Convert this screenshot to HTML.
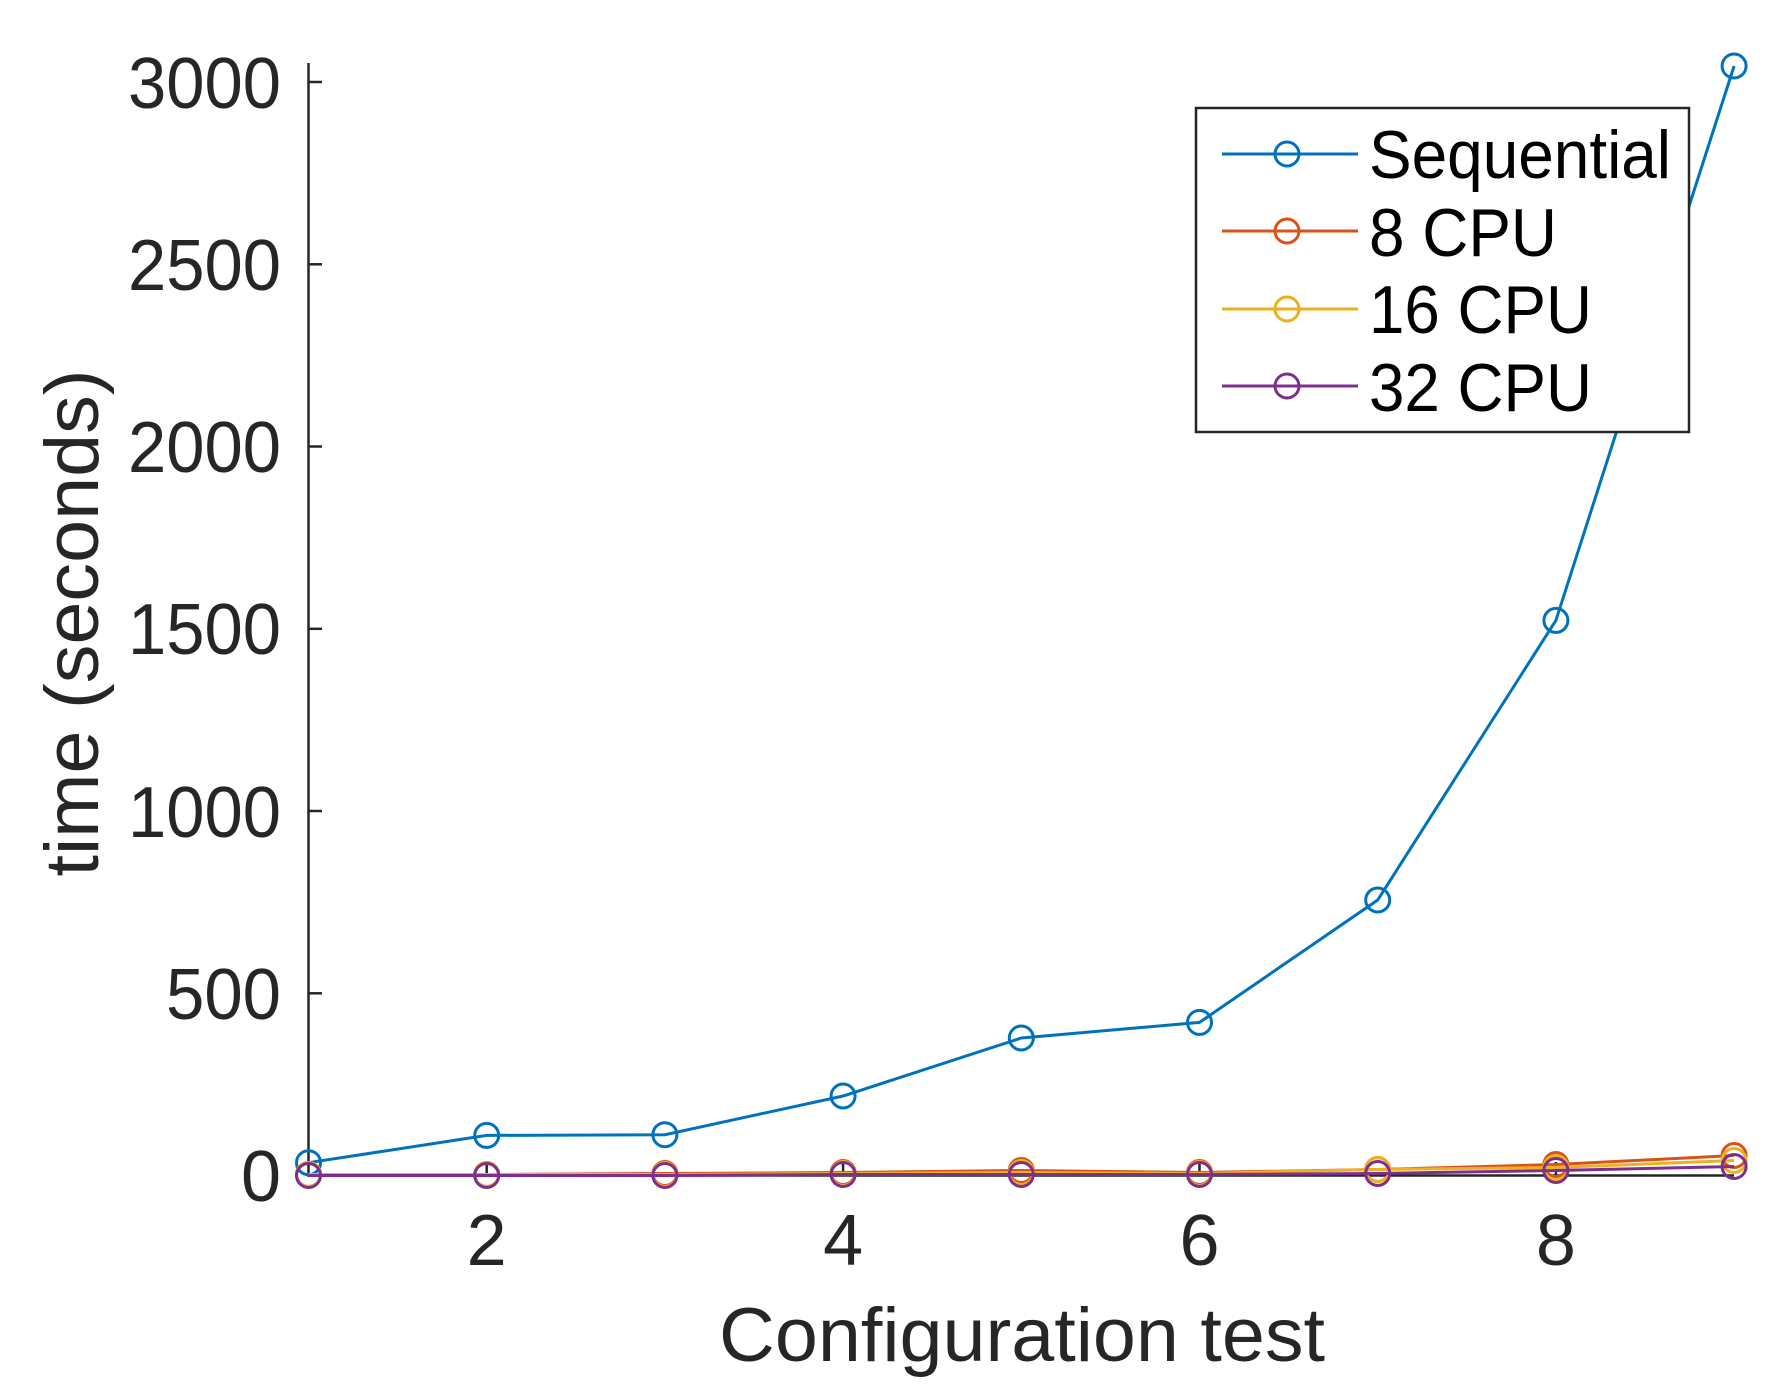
<!DOCTYPE html>
<html><head><meta charset="utf-8"><style>html,body{margin:0;padding:0;background:#fff}</style></head><body>
<svg width="1776" height="1395" viewBox="0 0 1776 1395" xmlns="http://www.w3.org/2000/svg" font-family="Liberation Sans, sans-serif" fill="#262626">
<rect width="1776" height="1395" fill="#fff"/>
<g stroke="#262626" stroke-width="2.5" fill="none">
<line x1="308.5" y1="63" x2="308.5" y2="1176"/>
<line x1="307" y1="1175.5" x2="1734" y2="1175.5"/>
<line x1="308.5" y1="1175.5" x2="322" y2="1175.5"/>
<line x1="308.5" y1="993.3" x2="322" y2="993.3"/>
<line x1="308.5" y1="811" x2="322" y2="811"/>
<line x1="308.5" y1="628.8" x2="322" y2="628.8"/>
<line x1="308.5" y1="446.5" x2="322" y2="446.5"/>
<line x1="308.5" y1="264.3" x2="322" y2="264.3"/>
<line x1="308.5" y1="82" x2="322" y2="82"/>
<line x1="486.7" y1="1175.5" x2="486.7" y2="1162"/>
<line x1="843.1" y1="1175.5" x2="843.1" y2="1162"/>
<line x1="1199.5" y1="1175.5" x2="1199.5" y2="1162"/>
<line x1="1555.9" y1="1175.5" x2="1555.9" y2="1162"/>
</g>
<g font-size="72" text-anchor="end">
<text x="281" y="1201">0</text>
<text x="281" y="1019" textLength="115" lengthAdjust="spacingAndGlyphs">500</text>
<text x="281" y="837" textLength="153" lengthAdjust="spacingAndGlyphs">1000</text>
<text x="281" y="654" textLength="153" lengthAdjust="spacingAndGlyphs">1500</text>
<text x="281" y="472" textLength="153" lengthAdjust="spacingAndGlyphs">2000</text>
<text x="281" y="290" textLength="153" lengthAdjust="spacingAndGlyphs">2500</text>
<text x="281" y="108" textLength="153" lengthAdjust="spacingAndGlyphs">3000</text>
</g>
<g font-size="72" text-anchor="middle">
<text x="486.7" y="1265">2</text>
<text x="843.1" y="1265">4</text>
<text x="1199.5" y="1265">6</text>
<text x="1555.9" y="1265">8</text>
</g>
<text x="1022" y="1361" font-size="76" text-anchor="middle" textLength="606" lengthAdjust="spacingAndGlyphs">Configuration test</text>
<text transform="translate(98,623) rotate(-90)" font-size="76" text-anchor="middle" textLength="507" lengthAdjust="spacingAndGlyphs">time (seconds)</text>
<g fill="none" stroke-width="3">
<g stroke="#0072BD">
<polyline points="308.5,1162.7 486.7,1135.4 664.9,1134.7 843.1,1096 1021.3,1038 1199.5,1022.4 1377.7,900 1555.9,620.4 1734.1,66"/>
<circle cx="308.5" cy="1162.7" r="12"/><circle cx="486.7" cy="1135.4" r="12"/><circle cx="664.9" cy="1134.7" r="12"/><circle cx="843.1" cy="1096" r="12"/><circle cx="1021.3" cy="1038" r="12"/><circle cx="1199.5" cy="1022.4" r="12"/><circle cx="1377.7" cy="900" r="12"/><circle cx="1555.9" cy="620.4" r="12"/><circle cx="1734.1" cy="66" r="12"/>
</g>
<g stroke="#D95319">
<polyline points="308.5,1174.5 486.7,1174.5 664.9,1173.5 843.1,1172.5 1021.3,1170.5 1199.5,1172.5 1377.7,1169.5 1555.9,1164.5 1734.1,1155.5"/>
<circle cx="308.5" cy="1174.5" r="12"/><circle cx="486.7" cy="1174.5" r="12"/><circle cx="664.9" cy="1173.5" r="12"/><circle cx="843.1" cy="1172.5" r="12"/><circle cx="1021.3" cy="1170.5" r="12"/><circle cx="1199.5" cy="1172.5" r="12"/><circle cx="1377.7" cy="1169.5" r="12"/><circle cx="1555.9" cy="1164.5" r="12"/><circle cx="1734.1" cy="1155.5" r="12"/>
</g>
<g stroke="#EDB120">
<polyline points="308.5,1174.5 486.7,1174.5 664.9,1174.5 843.1,1173.5 1021.3,1172.5 1199.5,1173.5 1377.7,1169.5 1555.9,1167.5 1734.1,1160.5"/>
<circle cx="308.5" cy="1174.5" r="12"/><circle cx="486.7" cy="1174.5" r="12"/><circle cx="664.9" cy="1174.5" r="12"/><circle cx="843.1" cy="1173.5" r="12"/><circle cx="1021.3" cy="1172.5" r="12"/><circle cx="1199.5" cy="1173.5" r="12"/><circle cx="1377.7" cy="1169.5" r="12"/><circle cx="1555.9" cy="1167.5" r="12"/><circle cx="1734.1" cy="1160.5" r="12"/>
</g>
<g stroke="#7E2F8E">
<polyline points="308.5,1175.5 486.7,1175.5 664.9,1175.5 843.1,1174.5 1021.3,1174.5 1199.5,1174.5 1377.7,1173.5 1555.9,1170.5 1734.1,1166.5"/>
<circle cx="308.5" cy="1175.5" r="12"/><circle cx="486.7" cy="1175.5" r="12"/><circle cx="664.9" cy="1175.5" r="12"/><circle cx="843.1" cy="1174.5" r="12"/><circle cx="1021.3" cy="1174.5" r="12"/><circle cx="1199.5" cy="1174.5" r="12"/><circle cx="1377.7" cy="1173.5" r="12"/><circle cx="1555.9" cy="1170.5" r="12"/><circle cx="1734.1" cy="1166.5" r="12"/>
</g>
</g>
<rect x="1196" y="108" width="493" height="324" fill="#fff" stroke="#262626" stroke-width="2.5"/>
<g fill="none" stroke-width="3">
<line x1="1222" y1="154" x2="1358" y2="154" stroke="#0072BD"/><circle cx="1287" cy="154" r="12" stroke="#0072BD"/>
<line x1="1222" y1="231" x2="1358" y2="231" stroke="#D95319"/><circle cx="1287" cy="231" r="12" stroke="#D95319"/>
<line x1="1222" y1="309" x2="1358" y2="309" stroke="#EDB120"/><circle cx="1287" cy="309" r="12" stroke="#EDB120"/>
<line x1="1222" y1="386" x2="1358" y2="386" stroke="#7E2F8E"/><circle cx="1287" cy="386" r="12" stroke="#7E2F8E"/>
</g>
<g font-size="68" fill="#000">
<text x="1369" y="178" textLength="302" lengthAdjust="spacingAndGlyphs">Sequential</text>
<text x="1369" y="256" textLength="188" lengthAdjust="spacingAndGlyphs">8 CPU</text>
<text x="1369" y="333" textLength="223" lengthAdjust="spacingAndGlyphs">16 CPU</text>
<text x="1369" y="411" textLength="223" lengthAdjust="spacingAndGlyphs">32 CPU</text>
</g>
</svg>
</body></html>
